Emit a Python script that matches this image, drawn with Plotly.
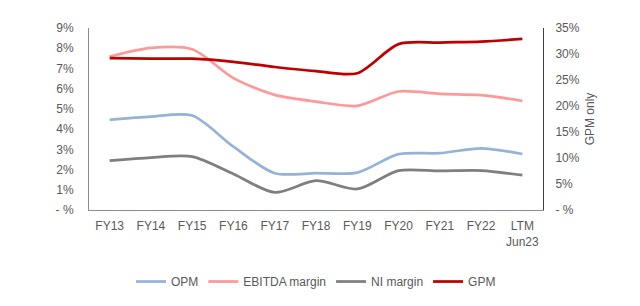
import plotly.graph_objects as go

categories = ["FY13", "FY14", "FY15", "FY16", "FY17", "FY18", "FY19", "FY20", "FY21", "FY22", "LTM<br>Jun23"]
opm = [4.46, 4.62, 4.67, 3.13, 1.82, 1.82, 1.85, 2.76, 2.81, 3.05, 2.77]
ebitda = [7.59, 8.02, 7.95, 6.52, 5.69, 5.36, 5.15, 5.86, 5.74, 5.68, 5.40]
ni = [2.44, 2.59, 2.64, 1.78, 0.87, 1.45, 1.04, 1.95, 1.93, 1.95, 1.72]
gpm = [29.2, 29.1, 29.1, 28.5, 27.5, 26.7, 26.3, 31.9, 32.2, 32.4, 32.9]

left_vals = list(range(0, 10))
left_text = ["- %"] + [f"{v}%" for v in left_vals[1:]]
right_vals = list(range(0, 40, 5))
right_text = ["- %"] + [f"{v}%" for v in right_vals[1:]]

font = dict(family="Liberation Sans, Arial, sans-serif", size=12, color="#595959")

fig = go.Figure()
fig.add_trace(go.Scatter(x=categories, y=opm, name="OPM", mode="lines",
                         line=dict(color="#95B3D7", width=2.75, shape="spline", smoothing=0.8)))
fig.add_trace(go.Scatter(x=categories, y=ebitda, name="EBITDA margin", mode="lines",
                         line=dict(color="#FF9999", width=2.75, shape="spline", smoothing=0.8)))
fig.add_trace(go.Scatter(x=categories, y=ni, name="NI margin", mode="lines",
                         line=dict(color="#7F7F7F", width=2.75, shape="spline", smoothing=0.8)))
fig.add_trace(go.Scatter(x=categories, y=gpm, name="GPM", mode="lines", yaxis="y2",
                         line=dict(color="#C00000", width=2.75, shape="spline", smoothing=0.8)))

fig.update_layout(
    width=640, height=306,
    margin=dict(l=89, r=97, t=28, b=96, autoexpand=False),
    paper_bgcolor="white", plot_bgcolor="white",
    font=font,
    showlegend=True,
    legend=dict(orientation="h", x=0.5, xanchor="center", yref="container",
                y=0.08, yanchor="middle",
                font=font, itemwidth=30, tracegroupgap=0),
    xaxis=dict(type="category", range=[-0.5, 10.5], showgrid=False, showline=True,
               linecolor="#8C8C8C", linewidth=1, ticks="", tickfont=font,
               ticklabelstandoff=5, zeroline=False, automargin=False),
    yaxis=dict(range=[0, 9], tickvals=left_vals, ticktext=left_text, showgrid=False,
               showline=True, linecolor="#8C8C8C", linewidth=1, zeroline=False,
               ticks="", ticklabelstandoff=12, tickfont=font, automargin=False),
    yaxis2=dict(range=[0, 35], tickvals=right_vals, ticktext=right_text, overlaying="y",
                side="right", showgrid=False, showline=True, linecolor="#404040",
                linewidth=1, zeroline=False, ticks="", ticklabelstandoff=9, tickfont=font,
                automargin=False,
                title=dict(text="GPM only", font=font, standoff=6)),
)

fig.write_html("out.html")
